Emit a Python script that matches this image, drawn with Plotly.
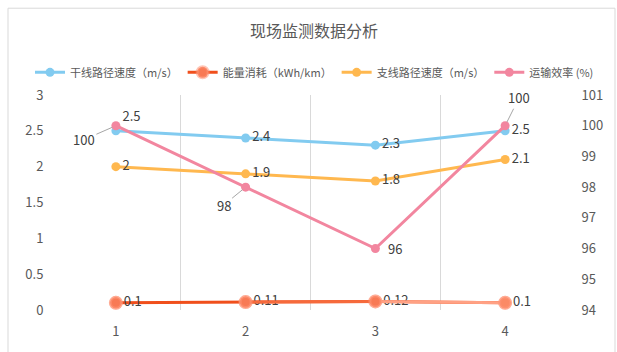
import plotly.graph_objects as go

# Monitoring data per site
sites = [1, 2, 3, 4]
trunk_speed = [2.5, 2.4, 2.3, 2.5]        # 干线路径速度 (m/s)
energy_use = [0.1, 0.11, 0.12, 0.1]       # 能量消耗 (kWh/km)
branch_speed = [2, 1.9, 1.8, 2.1]         # 支线路径速度 (m/s)
efficiency = [100, 98, 96, 100]           # 运输效率 (%)

names = ["干线路径速度（m/s）", "能量消耗（kWh/km）", "支线路径速度（m/s）", "运输效率 (%)"]
left_ticks = [0, 0.5, 1, 1.5, 2, 2.5, 3]
right_ticks = [94, 95, 96, 97, 98, 99, 100, 101]

BLUE = "#82CBF0"
ORANGE = "#FFB84F"
PINK = "#F2869F"
ENERGY_SEGMENTS = ["#F04F1C", "#F66A3C", "#FFA184"]
ENERGY_MARKERS = ["#F87A55", "#F87A55", "#F87A55", "#FB8A66"]
LABEL = "#404040"
AXIS_TXT = "#595959"

W, H = 617, 352
ML, MR, MT, MB = 51, 47, 95, 39
PW, PH = W - ML - MR, H - MT - MB

fig = go.Figure()

fig.add_trace(go.Scatter(
    x=sites, y=trunk_speed, name=names[0], mode="lines+markers+text",
    line=dict(color=BLUE, width=3), marker=dict(color=BLUE, size=9),
    text=[str(v) for v in trunk_speed],
    textposition=["top right", "middle right", "middle right", "middle right"],
    textfont=dict(size=13, color=LABEL),
))

fig.add_trace(go.Scatter(
    x=sites, y=energy_use, name=names[1], mode="lines+markers+text",
    line=dict(color=ENERGY_SEGMENTS[0], width=3),
    marker=dict(color=ENERGY_MARKERS, size=11,
                line=dict(color="rgba(255,150,120,0.55)", width=3)),
    text=[str(v) for v in energy_use], textposition="middle right",
    textfont=dict(size=13, color=LABEL),
))
# colour shift along the energy line, segment by segment
for i in range(1, len(sites) - 1):
    fig.add_trace(go.Scatter(
        x=sites[i:i + 2], y=energy_use[i:i + 2], mode="lines",
        line=dict(color=ENERGY_SEGMENTS[i], width=3),
        showlegend=False, hoverinfo="skip",
    ))
fig.add_trace(go.Scatter(
    x=sites, y=energy_use, mode="markers", showlegend=False, hoverinfo="skip",
    marker=dict(color=ENERGY_MARKERS, size=11,
                line=dict(color="rgba(255,150,120,0.55)", width=3)),
))

fig.add_trace(go.Scatter(
    x=sites, y=branch_speed, name=names[2], mode="lines+markers+text",
    line=dict(color=ORANGE, width=3), marker=dict(color=ORANGE, size=9),
    text=[str(v) for v in branch_speed], textposition="middle right",
    textfont=dict(size=13, color=LABEL),
))

fig.add_trace(go.Scatter(
    x=sites, y=efficiency, name=names[3], mode="lines+markers", yaxis="y2",
    line=dict(color=PINK, width=3), marker=dict(color=PINK, size=9),
))

# efficiency labels with leader lines
offsets = [(-32, 14), (-22, 18), (18, 0), (14, -28)]
for s, v, (ax, ay) in zip(sites, efficiency, offsets):
    leader = (ax, ay) != (18, 0)
    fig.add_annotation(
        x=s, y=v, xref="x", yref="y2", text=str(v),
        showarrow=leader, arrowhead=0, arrowwidth=1,
        arrowcolor="#A6A6A6", ax=ax, ay=ay, standoff=4,
        xshift=0 if leader else 20,
        font=dict(size=13, color=LABEL),
    )

# outer chart frame
fig.add_shape(
    type="rect", xref="paper", yref="paper",
    x0=(8 - ML) / PW, x1=(615 - ML) / PW,
    y0=(MT + PH - 360) / PH, y1=(MT + PH - 7) / PH,
    line=dict(color="#D9D9D9", width=1), layer="below",
)

fig.update_layout(
    width=W, height=H,
    margin=dict(l=ML, r=MR, t=MT, b=MB),
    paper_bgcolor="white", plot_bgcolor="white",
    font=dict(family="Noto Sans CJK SC, Noto Sans, sans-serif", color=AXIS_TXT),
    title=dict(text="现场监测数据分析", x=(314 - ML) / PW, xref="paper",
               xanchor="center", y=1 - 31 / H, yanchor="middle",
               font=dict(size=16, color=AXIS_TXT)),
    showlegend=True,
    legend=dict(orientation="h", x=(30 - ML) / PW, xanchor="left",
                y=(MT + PH - 72) / PH, yanchor="middle",
                font=dict(size=11, color=AXIS_TXT), itemwidth=30,
                bgcolor="rgba(0,0,0,0)"),
    xaxis=dict(range=[0.5, 4.5], tickvals=sites, ticktext=[str(s) for s in sites],
               showgrid=False, zeroline=False, showline=False,
               ticks="outside", ticklen=9, tickcolor="rgba(0,0,0,0)",
               tickfont=dict(size=13, color=AXIS_TXT),
               minor=dict(tick0=0.5, dtick=1, showgrid=True,
                          gridcolor="#D9D9D9", gridwidth=1)),
    yaxis=dict(range=[0, 3], tickvals=left_ticks, ticktext=[str(t) for t in left_ticks],
               showgrid=False, zeroline=False, showline=False,
               ticks="outside", ticklen=4, tickcolor="rgba(0,0,0,0)",
               tickfont=dict(size=13, color=AXIS_TXT)),
    yaxis2=dict(range=[94, 101], tickvals=right_ticks, overlaying="y", side="right",
                showgrid=False, zeroline=False, showline=False,
                ticks="outside", ticklen=8, tickcolor="rgba(0,0,0,0)",
                tickfont=dict(size=13, color=AXIS_TXT)),
)

fig.write_html("out.html")
